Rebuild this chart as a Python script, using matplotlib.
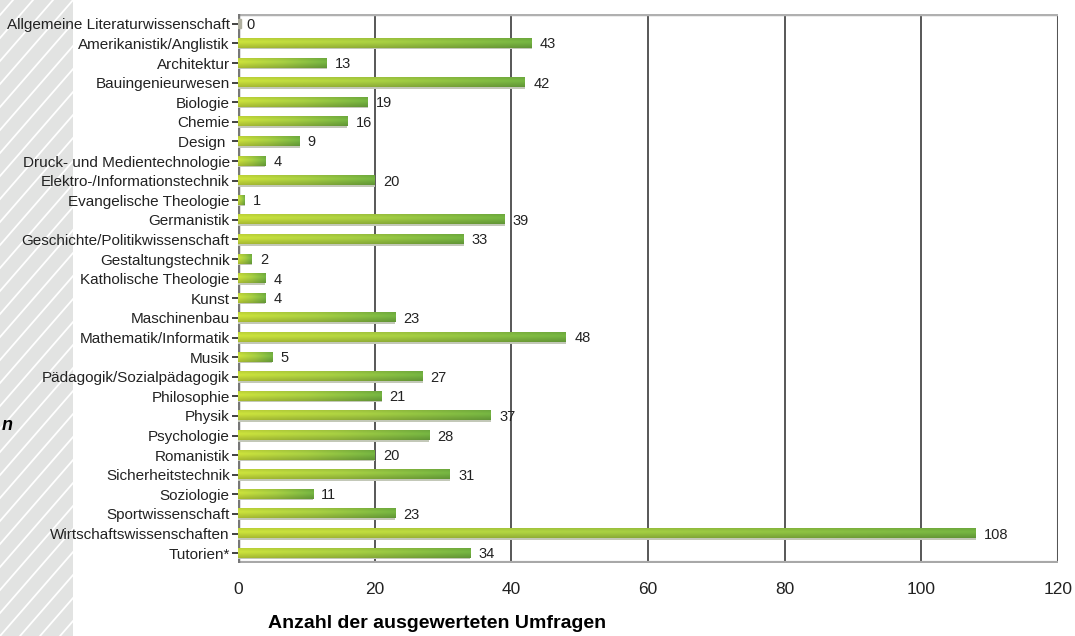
import numpy as np
import matplotlib.pyplot as plt
from matplotlib.colors import LinearSegmentedColormap
from matplotlib.patches import Rectangle

faecher = [
    "Allgemeine Literaturwissenschaft", "Amerikanistik/Anglistik", "Architektur",
    "Bauingenieurwesen", "Biologie", "Chemie", "Design ", "Druck- und Medientechnologie",
    "Elektro-/Informationstechnik", "Evangelische Theologie", "Germanistik",
    "Geschichte/Politikwissenschaft", "Gestaltungstechnik", "Katholische Theologie",
    "Kunst", "Maschinenbau", "Mathematik/Informatik", "Musik",
    "Pädagogik/Sozialpädagogik", "Philosophie", "Physik", "Psychologie",
    "Romanistik", "Sicherheitstechnik", "Soziologie", "Sportwissenschaft",
    "Wirtschaftswissenschaften", "Tutorien*",
]
umfragen = [0, 43, 13, 42, 19, 16, 9, 4, 20, 1, 39, 33, 2, 4, 4, 23, 48, 5,
            27, 21, 37, 28, 20, 31, 11, 23, 108, 34]
xticks = [0, 20, 40, 60, 80, 100, 120]

plt.rcParams['font.family'] = ['Liberation Sans', 'DejaVu Sans']

fig = plt.figure(figsize=(10.75, 6.36), dpi=100)

# hatched strip on the left edge
strip = fig.add_axes([0, 0, 73 / 1075, 1])
strip.set_xlim(0, 73)
strip.set_ylim(0, 636)
strip.add_patch(Rectangle((0, 0), 73, 636, color='#e2e3e2', zorder=-1))
for x0 in np.arange(-700, 100, 20):
    strip.plot([x0, x0 + 600], [0, 600 * 1.15], color='white', lw=1.3)
strip.set_axis_off()
strip.text(2, 210, 'n', fontsize=13, fontweight='bold', style='italic',
           ha='left', va='center')

ax = fig.add_axes([238 / 1075, 73 / 636, 820 / 1075, 549 / 636])
n = len(faecher)
ax.set_xlim(0, 120)
ax.set_ylim(n - 0.5, -0.5)

cmap_x = LinearSegmentedColormap.from_list('bar', ['#cde33c', '#a9d143', '#76b642'])
h = 0.46
for i, v in enumerate(umfragen):
    if v == 0:
        ax.add_patch(Rectangle((0, i - h / 2), 0.4, h, color='#b0b0a0', zorder=3))
    else:
        grad = np.linspace(0, 1, 256).reshape(1, -1)
        shade = np.concatenate([np.linspace(0.92, 1.0, 6), np.linspace(1.0, 0.82, 10)])
        rgb = cmap_x(grad)[..., :3] * shade.reshape(-1, 1, 1) * np.ones((16, 256, 1))
        ax.imshow(rgb, extent=[0, v, i + h / 2, i - h / 2], aspect='auto',
                  interpolation='bilinear', zorder=3)
        ax.add_patch(Rectangle((0, i + h / 2), v, 0.08, color='#c3c8b8',
                               lw=0, zorder=2))
    ax.text(v + 1.2, i + 0.05, str(v), fontsize=10.5, color='#222222',
            va='center', ha='left', zorder=4)

for xt in xticks[1:-1]:
    ax.axvline(xt, color='#4a4a4a', lw=1.3, zorder=1)
ax.axvline(120, color='#555555', lw=2.2, zorder=1)
ax.axhline(-0.5, color='#b0b0b0', lw=2.5, zorder=1)
ax.axhline(n - 0.5, color='#a8a8a8', lw=3, zorder=1)
ax.axvline(0, color='#777777', lw=2.5, zorder=1)

for s in ax.spines.values():
    s.set_visible(False)
ax.set_xticks(xticks)
ax.set_xticklabels([str(t) for t in xticks], fontsize=12.5, color='#222222')
ax.set_yticks(range(n))
ax.set_yticklabels(faecher, fontsize=11, color='#222222')
ax.tick_params(axis='x', length=0, pad=14)
ax.tick_params(axis='y', length=4, width=1.2, color='#222222', pad=2)
ax.set_xlabel('Anzahl der ausgewerteten Umfragen', fontsize=14,
              fontweight='bold', labelpad=12)
ax.xaxis.set_label_coords(0.243, -0.095)

fig.savefig('out.png', dpi=100)
